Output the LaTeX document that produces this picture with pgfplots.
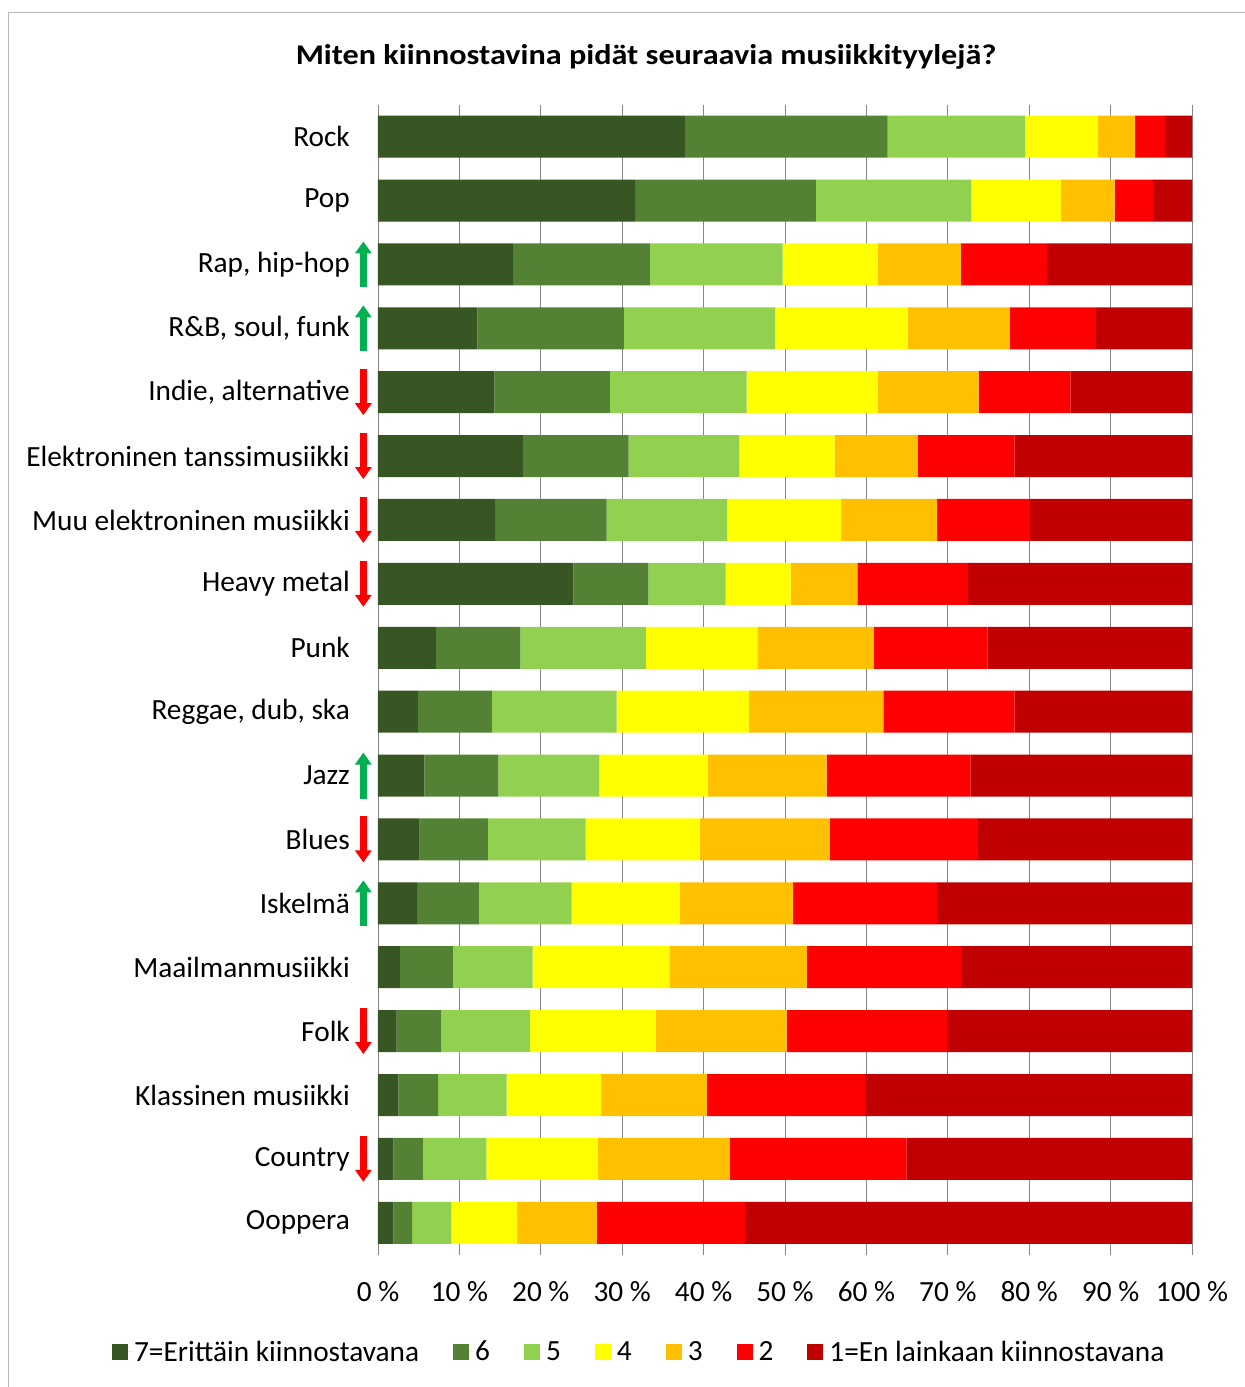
\documentclass[border=0pt]{standalone}
\usepackage{pgfplots}
\pgfplotsset{compat=1.18}
\usepackage{pgfplotstable}
\usepackage{fontspec}
\setmainfont{Carlito}
\newfontfamily\titlefont{Carlito}[FakeStretch=1.13]
\usetikzlibrary{arrows.meta}

\definecolor{c7}{HTML}{375623}
\definecolor{c6}{HTML}{548235}
\definecolor{c5}{HTML}{92D050}
\definecolor{c4}{HTML}{FFFF00}
\definecolor{c3}{HTML}{FFC000}
\definecolor{c2}{HTML}{FF0000}
\definecolor{c1}{HTML}{C00000}
\definecolor{upgreen}{HTML}{00B050}
\definecolor{gridgray}{HTML}{868686}

% 0 = Rock ... 17 = Ooppera
\pgfplotstableread{
idx s7   s6   s5   s4   s3   s2   s1
0   37.7 24.9 16.9 8.9  4.6  3.7  3.3
1   31.6 22.2 19.1 11.0 6.6  4.7  4.8
2   16.6 16.8 16.3 11.7 10.2 10.6 17.8
3   12.2 18.0 18.6 16.3 12.5 10.6 11.8
4   14.3 14.2 16.8 16.1 12.4 11.3 14.9
5   17.8 13.0 13.6 11.7 10.2 11.9 21.8
6   14.4 13.7 14.8 14.0 11.8 11.4 19.9
7   24.0 9.2  9.5  8.0  8.2  13.6 27.5
8   7.1  10.4 15.4 13.7 14.3 14.0 25.1
9   4.9  9.1  15.3 16.3 16.5 16.1 21.8
10  5.7  9.1  12.4 13.3 14.6 17.7 27.2
11  5.1  8.4  12.0 14.0 16.0 18.2 26.3
12  4.8  7.6  11.4 13.3 13.9 17.7 31.3
13  2.7  6.5  9.8  16.8 16.9 18.9 28.4
14  2.3  5.5  10.9 15.4 16.1 19.7 30.1
15  2.5  4.9  8.4  11.6 13.0 19.4 40.2
16  1.9  3.6  7.8  13.7 16.2 21.7 35.1
17  1.9  2.3  4.8  8.1  9.8  18.2 54.9
}\musiikki

\newcommand{\ylos}[1]{\draw[upgreen, line width=7pt, -{Triangle[width=16pt,length=12pt]}]
  ([yshift=-23pt]axis cs:-1.8,#1) -- ([yshift=23pt]axis cs:-1.8,#1);}
\newcommand{\alas}[1]{\draw[c2, line width=7pt, -{Triangle[width=16pt,length=12pt]}]
  ([yshift=23pt]axis cs:-1.8,#1) -- ([yshift=-23pt]axis cs:-1.8,#1);}

\begin{document}
\begin{tikzpicture}
\path[use as bounding box] (0,0) rectangle (1245pt,-1387pt);
\draw[gray!55, line width=1pt] (8pt,-12pt) rectangle (1280pt,-1400pt);
\node[font=\titlefont\bfseries\fontsize{28.5}{34}\selectfont] at (646pt,-57pt)
  {Miten kiinnostavina pidät seuraavia musiikkityylejä?};
\begin{axis}[
  at={(378pt,-104.7pt)}, anchor=north west,
  scale only axis, width=814pt, height=1150pt,
  xbar stacked, bar width=42pt,
  xmin=0, xmax=100, ymin=-0.5, ymax=17.5, y dir=reverse,
  xtick={0,10,...,100},
  xticklabels={0~\%,10~\%,20~\%,30~\%,40~\%,50~\%,60~\%,70~\%,80~\%,90~\%,100~\%},
  ytick={0,...,17},
  yticklabels={Rock,Pop,{Rap, hip-hop},{R\&B, soul, funk},{Indie, alternative},
    Elektroninen tanssimusiikki,Muu elektroninen musiikki,Heavy metal,Punk,
    {Reggae, dub, ska},Jazz,Blues,Iskelmä,Maailmanmusiikki,Folk,
    Klassinen musiikki,Country,Ooppera},
  xmajorgrids, grid style={gridgray, line width=0.8pt},
  axis y line*=left, axis x line*=bottom,
  x axis line style={draw=none},
  y axis line style={gridgray, line width=0.8pt, -},
  major tick length=0pt,
  clip=false,
  tick label style={font=\fontsize{29.3}{35}\selectfont, inner sep=0pt},
  yticklabel style={anchor=east, xshift=-28pt},
  xticklabel style={anchor=base, yshift=-47pt},
  legend columns=7,
  legend style={at={(0.321,-0.0843)}, anchor=center, draw=none, fill=none,
    font=\fontsize{29.3}{35}\selectfont,
    /tikz/every even column/.append style={column sep=32pt}},
  legend cell align=left,
  legend image code/.code={\fill[#1,draw=none] (0pt,-8pt) rectangle (16pt,8pt);
    \path (0pt,0pt) -- (20pt,0pt);},
]
\addplot[fill=c7, draw=none] table[x=s7, y=idx] {\musiikki};
\addplot[fill=c6, draw=none] table[x=s6, y=idx] {\musiikki};
\addplot[fill=c5, draw=none] table[x=s5, y=idx] {\musiikki};
\addplot[fill=c4, draw=none] table[x=s4, y=idx] {\musiikki};
\addplot[fill=c3, draw=none] table[x=s3, y=idx] {\musiikki};
\addplot[fill=c2, draw=none] table[x=s2, y=idx] {\musiikki};
\addplot[fill=c1, draw=none] table[x=s1, y=idx] {\musiikki};
\legend{7=Erittäin kiinnostavana,6,5,4,3,2,1=En lainkaan kiinnostavana}
\ylos{2}
\ylos{3}
\alas{4}
\alas{5}
\alas{6}
\alas{7}
\ylos{10}
\alas{11}
\ylos{12}
\alas{14}
\alas{16}
\end{axis}
\end{tikzpicture}
\end{document}
